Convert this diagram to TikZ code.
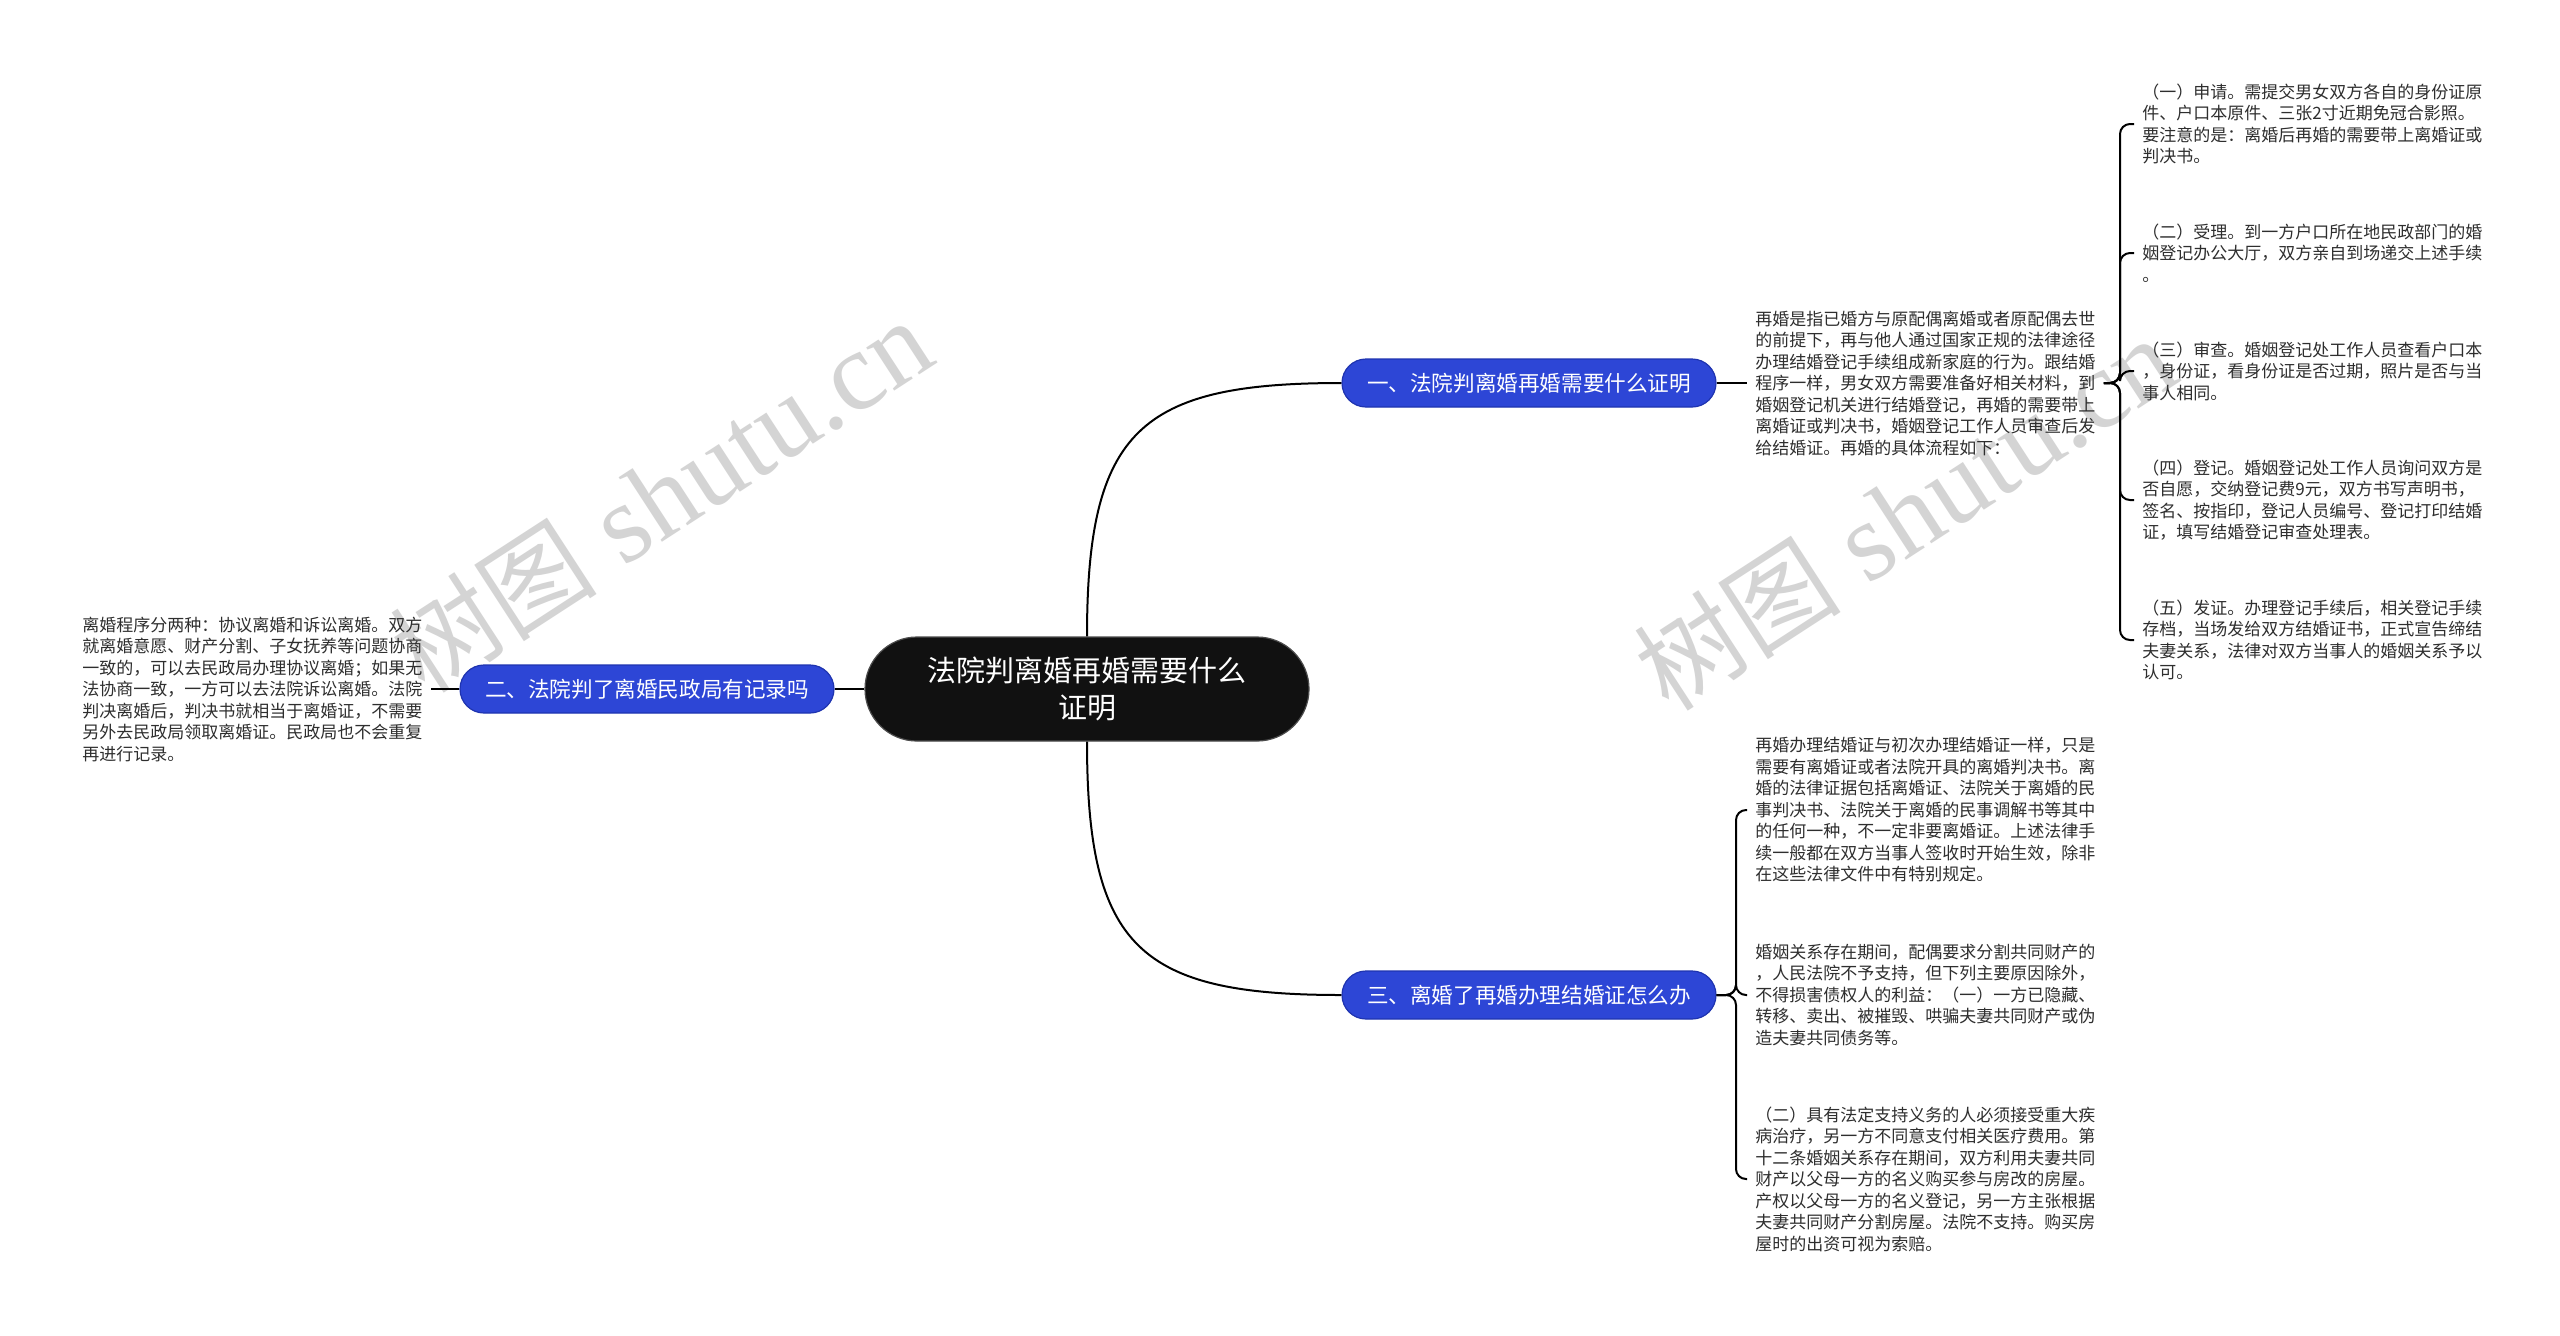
\documentclass[tikz,border=0pt]{standalone}
\usepackage{fontspec}
\setmainfont{Noto Sans CJK SC}
\newfontfamily\cjkwm{Noto Sans CJK SC}
\newfontfamily\wmlatin{Liberation Serif}
\definecolor{pillblue}{HTML}{2D46D6}
\definecolor{pillborder}{HTML}{1F34B0}
\definecolor{rootblack}{HTML}{111111}
\definecolor{txtgray}{HTML}{2E2E2E}
\definecolor{wmgray}{HTML}{B8B8B8}
\begin{document}
\begin{tikzpicture}[x=0.5pt,y=-0.5pt,
  body/.style={font=\fontsize{8.5pt}{10.75pt}\selectfont, text=txtgray, align=left, anchor=west, inner xsep=4pt, inner ysep=0pt},
  pill/.style={fill=pillblue, draw=pillborder, line width=0.6pt, rounded corners=12pt, minimum width=187pt, minimum height=24pt, text=white, font=\fontsize{10.8pt}{13pt}\selectfont, inner sep=0pt},
  rootnode/.style={fill=rootblack, draw=black!70, line width=0.6pt, rounded corners=26pt, minimum width=222pt, minimum height=52pt, text=white, align=center, font=\fontsize{14.5pt}{18.5pt}\selectfont, inner sep=0pt},
  link/.style={draw=black, line width=1pt},
  wm/.style={text=wmgray, opacity=0.6, rotate=33, inner sep=0pt}
]
\useasboundingbox (0,0) rectangle (2560,1335);
\fill[white] (0,0) rectangle (2560,1335);

% watermarks
\node[wm] (wm1) at (661,496) {{\cjkwm\fontsize{52pt}{56pt}\selectfont 树图}\hspace{14pt}{\wmlatin\fontsize{56pt}{60pt}\selectfont shutu.cn}};
\node[wm] (wm2) at (1905,514) {{\cjkwm\fontsize{52pt}{56pt}\selectfont 树图}\hspace{14pt}{\wmlatin\fontsize{56pt}{60pt}\selectfont shutu.cn}};

% root and branches
\node[rootnode] (root) at (1087,689) {法院判离婚再婚需要什么\\证明};
\node[pill] (p1) at (1529,383) {一、法院判离婚再婚需要什么证明};
\node[pill] (p2) at (647,689) {二、法院判了离婚民政局有记录吗};
\node[pill] (p3) at (1529,995) {三、离婚了再婚办理结婚证怎么办};

% left text
\node[body] (lt) at (74,689) {离婚程序分两种：协议离婚和诉讼离婚。双方\\就离婚意愿、财产分割、子女抚养等问题协商\\一致的，可以去民政局办理协议离婚；如果无\\法协商一致，一方可以去法院诉讼离婚。法院\\判决离婚后，判决书就相当于离婚证，不需要\\另外去民政局领取离婚证。民政局也不会重复\\再进行记录。};

% branch 1 text
\node[body] (b1t) at (1747,383) {再婚是指已婚方与原配偶离婚或者原配偶去世\\的前提下，再与他人通过国家正规的法律途径\\办理结婚登记手续组成新家庭的行为。跟结婚\\程序一样，男女双方需要准备好相关材料，到\\婚姻登记机关进行结婚登记，再婚的需要带上\\离婚证或判决书，婚姻登记工作人员审查后发\\给结婚证。再婚的具体流程如下：};

\node[body] (c1) at (2134,124) {（一）申请。需提交男女双方各自的身份证原\\件、户口本原件、三张2寸近期免冠合影照。\\要注意的是：离婚后再婚的需要带上离婚证或\\判决书。};
\node[body] (c2) at (2134,253) {（二）受理。到一方户口所在地民政部门的婚\\姻登记办公大厅，双方亲自到场递交上述手续\\。};
\node[body] (c3) at (2134,371) {（三）审查。婚姻登记处工作人员查看户口本\\，身份证，看身份证是否过期，照片是否与当\\事人相同。};
\node[body] (c4) at (2134,500) {（四）登记。婚姻登记处工作人员询问双方是\\否自愿，交纳登记费9元，双方书写声明书，\\签名、按指印，登记人员编号、登记打印结婚\\证，填写结婚登记审查处理表。};
\node[body] (c5) at (2134,640) {（五）发证。办理登记手续后，相关登记手续\\存档，当场发给双方结婚证书，正式宣告缔结\\夫妻关系，法律对双方当事人的婚姻关系予以\\认可。};

% branch 3 texts
\node[body] (d1) at (1747,810) {再婚办理结婚证与初次办理结婚证一样，只是\\需要有离婚证或者法院开具的离婚判决书。离\\婚的法律证据包括离婚证、法院关于离婚的民\\事判决书、法院关于离婚的民事调解书等其中\\的任何一种，不一定非要离婚证。上述法律手\\续一般都在双方当事人签收时开始生效，除非\\在这些法律文件中有特别规定。};
\node[body] (d2) at (1747,995) {婚姻关系存在期间，配偶要求分割共同财产的\\，人民法院不予支持，但下列主要原因除外，\\不得损害债权人的利益：（一）一方已隐藏、\\转移、卖出、被摧毁、哄骗夫妻共同财产或伪\\造夫妻共同债务等。};
\node[body] (d3) at (1747,1179) {（二）具有法定支持义务的人必须接受重大疾\\病治疗，另一方不同意支付相关医疗费用。第\\十二条婚姻关系存在期间，双方利用夫妻共同\\财产以父母一方的名义购买参与房改的房屋。\\产权以父母一方的名义登记，另一方主张根据\\夫妻共同财产分割房屋。法院不支持。购买房\\屋时的出资可视为索赔。};

% connectors
\draw[link] (root.north) .. controls (1087,430) and (1140,383) .. (p1.west);
\draw[link] (root.south) .. controls (1087,948) and (1140,995) .. (p3.west);
\draw[link] (root.west) -- (p2.east);
\draw[link] (p2.west) -- (lt.east);
\draw[link] (p1.east) -- (b1t.west);

\coordinate (j1) at (2120,383);
\foreach \c in {c1,c2,c3,c4,c5}{
  \draw[link, rounded corners=5pt] (b1t.east) -- (j1) |- (\c.west);
}
\coordinate (j3) at (1736,995);
\foreach \c in {d1,d2,d3}{
  \draw[link, rounded corners=5pt] (p3.east) -- (j3) |- (\c.west);
}
\end{tikzpicture}
\end{document}
